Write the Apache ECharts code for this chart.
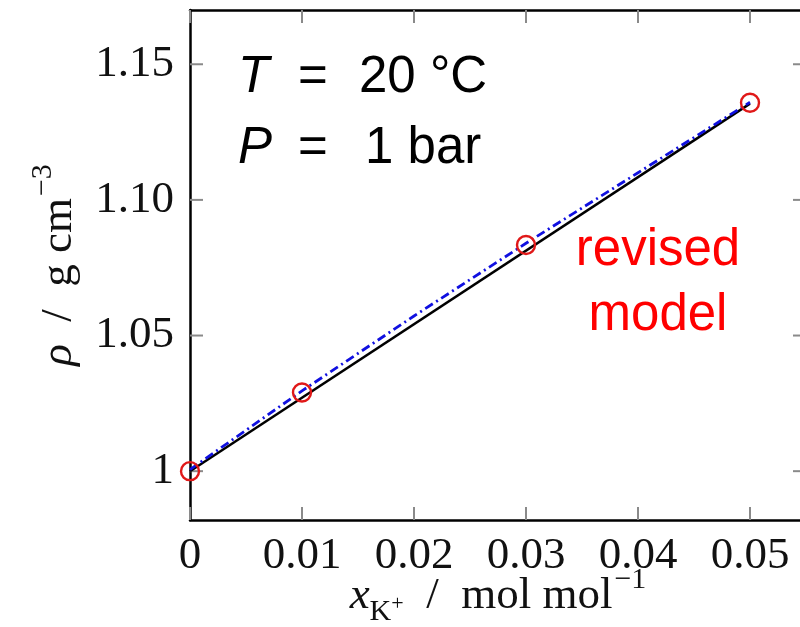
<!DOCTYPE html>
<html>
<head>
<meta charset="utf-8">
<script src="https://cdn.jsdelivr.net/npm/echarts@6/dist/echarts.min.js"></script>
<style>html,body{margin:0;padding:0;background:#fff}#c{width:800px;height:627px}</style>
</head>
<body>
<div id="c"></div>
<script>
// ---- data ----
var xSim = [0, 0.01, 0.03, 0.05];
var rhoSim = [1.0000, 1.0290, 1.0834, 1.1358];
var xFitBlack = [0, 0.05];
var rhoFitBlack = [1.0000, 1.1355];
var xFitBlue = [0, 0.01, 0.02, 0.03, 0.04, 0.05];
var rhoFitBlue = [1.0006, 1.0296, 1.0572, 1.0840, 1.1100, 1.1360];
var xTickValues = [0, 0.01, 0.02, 0.03, 0.04, 0.05];
var xTickLabels = ['0', '0.01', '0.02', '0.03', '0.04', '0.05'];
var yTickValues = [1.00, 1.05, 1.10, 1.15];
var yTickLabels = ['1', '1.05', '1.10', '1.15'];

function zip(a, b) { return a.map(function (v, i) { return [v, b[i]]; }); }
function lookup(vals, labs) {
  return function (v) {
    for (var i = 0; i < vals.length; i++) if (Math.abs(v - vals[i]) < 1e-9) return labs[i];
    return '';
  };
}

var serif = 'Liberation Serif';
var FS = 45;
var TICK_LEN = 13;
var TICK_STYLE = { stroke: '#8a8a8a', lineWidth: 2 };
var X_RANGE = { min: 0, max: 0.055, minInterval: 0.01, maxInterval: 0.01 };
var Y_RANGE = { min: 0.982, max: 1.17, minInterval: 0.05, maxInterval: 0.05 };

function frameAxis(pos, range, extra) {
  return Object.assign({
    type: 'value', position: pos, min: range.min, max: range.max,
    minInterval: range.minInterval, maxInterval: range.maxInterval,
    axisLine: { show: true, onZero: false, lineStyle: { color: '#000', width: 2.5 } },
    axisTick: { show: false }, splitLine: { show: false }, axisLabel: { show: false }
  }, extra || {});
}

// inward ticks, placed through the chart's own coordinate system
function xTickRender(params, api) {
  var v = api.value(0);
  var b = api.coord([v, Y_RANGE.min]);
  var t = api.coord([v, Y_RANGE.max]);
  return { type: 'group', children: [
    { type: 'line', shape: { x1: b[0], y1: b[1], x2: b[0], y2: b[1] - TICK_LEN }, style: TICK_STYLE },
    { type: 'line', shape: { x1: t[0], y1: t[1], x2: t[0], y2: t[1] + TICK_LEN }, style: TICK_STYLE }
  ] };
}
function yTickRender(params, api) {
  var v = api.value(1);
  var l = api.coord([X_RANGE.min, v]);
  var r = api.coord([X_RANGE.max, v]);
  return { type: 'group', children: [
    { type: 'line', shape: { x1: l[0], y1: l[1], x2: l[0] + TICK_LEN, y2: l[1] }, style: TICK_STYLE },
    { type: 'line', shape: { x1: r[0], y1: r[1], x2: r[0] - TICK_LEN, y2: r[1] }, style: TICK_STYLE }
  ] };
}

var chart = echarts.init(document.getElementById('c'), null, { renderer: 'canvas' });
chart.setOption({
  animation: false,
  backgroundColor: '#fff',
  grid: { left: 190, top: 10, width: 616, height: 510, containLabel: false, outerBoundsMode: 'none' },
  xAxis: [
    frameAxis('bottom', X_RANGE, {
      axisLabel: { show: true, margin: 14, formatter: lookup(xTickValues, xTickLabels), showMaxLabel: false, fontFamily: serif, fontSize: FS, color: '#111' },
      name: '{i|x}{sub|K}{ss|+}{n|  /  mol mol}{sup|−1}',
      nameLocation: 'middle', nameGap: 45, nameMoveOverlap: false,
      nameTextStyle: {
        rich: {
          i: { fontFamily: serif, fontStyle: 'italic', fontSize: FS, color: '#111', lineHeight: 54, verticalAlign: 'bottom' },
          sub: { fontFamily: serif, fontSize: 30, color: '#111', verticalAlign: 'bottom', lineHeight: 54, padding: [0, 0, -8, 0] },
          ss: { fontFamily: serif, fontSize: 22, color: '#111', verticalAlign: 'bottom', lineHeight: 54, padding: [0, 0, 4, 0] },
          n: { fontFamily: serif, fontSize: FS, color: '#111', lineHeight: 54, verticalAlign: 'bottom' },
          sup: { fontFamily: serif, fontSize: 30, color: '#111', verticalAlign: 'top', lineHeight: 54, padding: [0, 0, 0, 2] }
        }
      }
    }),
    frameAxis('top', X_RANGE)
  ],
  yAxis: [
    frameAxis('left', Y_RANGE, {
      axisLabel: { show: true, margin: 16, formatter: lookup(yTickValues, yTickLabels), showMinLabel: false, showMaxLabel: false, fontFamily: serif, fontSize: FS, color: '#111' },
      name: '{i|ρ}{n|  /  g cm}{sup|−3}',
      nameLocation: 'middle', nameGap: 108, nameRotate: 90, nameMoveOverlap: false,
      nameTextStyle: {
        rich: {
          i: { fontFamily: serif, fontStyle: 'italic', fontSize: FS, color: '#111', lineHeight: 54, verticalAlign: 'bottom' },
          n: { fontFamily: serif, fontSize: FS, color: '#111', lineHeight: 54, verticalAlign: 'bottom' },
          sup: { fontFamily: serif, fontSize: 30, color: '#111', verticalAlign: 'top', lineHeight: 54, padding: [0, 0, 0, 2] }
        }
      }
    }),
    frameAxis('right', Y_RANGE)
  ],
  series: [{
    type: 'custom', renderItem: xTickRender, data: xTickValues.map(function (v) { return [v, Y_RANGE.min]; }),
    silent: true, clip: false, z: 1
  }, {
    type: 'custom', renderItem: yTickRender, data: yTickValues.map(function (v) { return [X_RANGE.min, v]; }),
    silent: true, clip: false, z: 1
  }, {
    type: 'line', data: zip(xFitBlack, rhoFitBlack), showSymbol: false, symbol: 'none',
    lineStyle: { color: '#000', width: 2.5 }, z: 2
  }, {
    type: 'line', data: zip(xFitBlue, rhoFitBlue), showSymbol: false, symbol: 'none', smooth: false,
    lineStyle: { color: '#1010e0', width: 2.8, type: [9, 4, 2, 4] }, z: 3
  }, {
    type: 'scatter', data: zip(xSim, rhoSim), symbol: 'circle', symbolSize: 18,
    itemStyle: { color: 'rgba(0,0,0,0)', borderColor: '#e01818', borderWidth: 2.4, opacity: 1 }, z: 4
  }],
  graphic: [
    { type: 'text', left: 238, top: 52, style: { text: 'T', font: 'italic 51px "Liberation Sans"', fill: '#000' } },
    { type: 'text', left: 298, top: 52, style: { text: '=', font: '51px "Liberation Sans"', fill: '#000' } },
    { type: 'text', left: 359, top: 52, style: { text: '20 °C', font: '51px "Liberation Sans"', fill: '#000' } },
    { type: 'text', left: 238, top: 123, style: { text: 'P', font: 'italic 51px "Liberation Sans"', fill: '#000' } },
    { type: 'text', left: 298, top: 123, style: { text: '=', font: '51px "Liberation Sans"', fill: '#000' } },
    { type: 'text', left: 365, top: 123, style: { text: '1 bar', font: '51px "Liberation Sans"', fill: '#000' } },
    { type: 'text', x: 658, y: 225, style: { text: 'revised', font: '51px "Liberation Sans"', fill: '#ff0000', align: 'center', verticalAlign: 'top' } },
    { type: 'text', x: 658, y: 290, style: { text: 'model', font: '51px "Liberation Sans"', fill: '#ff0000', align: 'center', verticalAlign: 'top' } }
  ]
});
</script>
</body>
</html>
